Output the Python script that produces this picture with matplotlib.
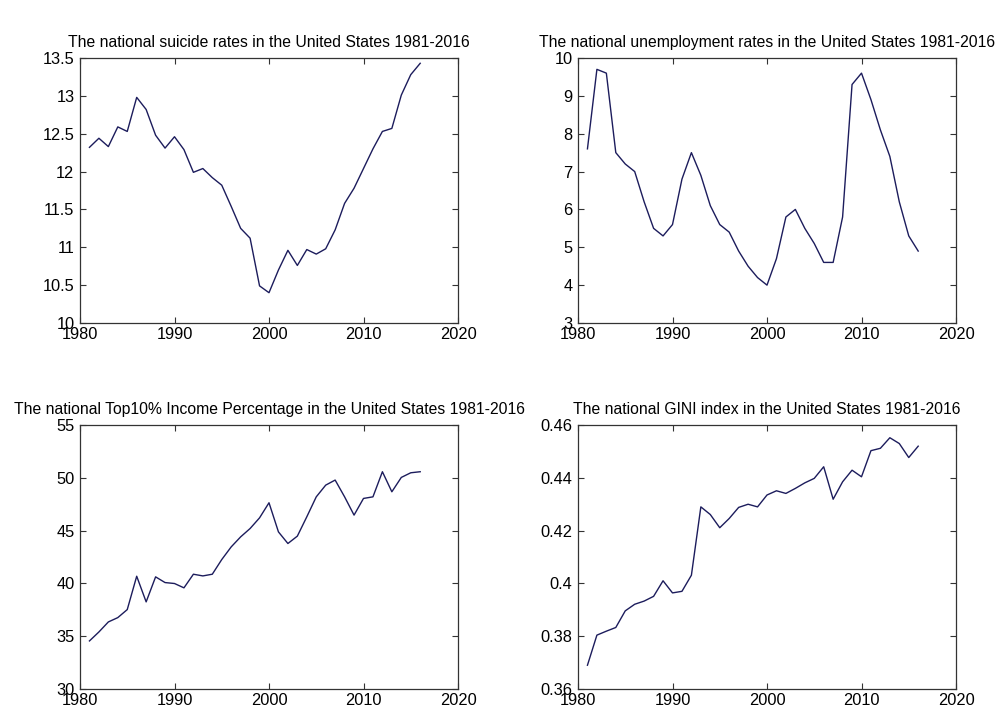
import numpy as np
from matplotlib import pyplot as plt

plt.rcParams['font.family'] = ['Liberation Sans', 'DejaVu Sans']

years = np.arange(1981, 2017)

suicide = [12.32, 12.44, 12.33, 12.59, 12.53, 12.98, 12.82, 12.48, 12.31, 12.46,
           12.29, 11.99, 12.04, 11.92, 11.82, 11.54, 11.25, 11.12, 10.49, 10.40,
           10.70, 10.96, 10.76, 10.97, 10.91, 10.98, 11.23, 11.58, 11.78, 12.04,
           12.30, 12.53, 12.57, 13.01, 13.28, 13.43]

unemployment = [7.6, 9.7, 9.6, 7.5, 7.2, 7.0, 6.2, 5.5, 5.3, 5.6,
                6.8, 7.5, 6.9, 6.1, 5.6, 5.4, 4.9, 4.5, 4.2, 4.0,
                4.7, 5.8, 6.0, 5.5, 5.1, 4.6, 4.6, 5.8, 9.3, 9.6,
                8.9, 8.1, 7.4, 6.2, 5.3, 4.9]

top10 = [34.55, 35.4, 36.35, 36.76, 37.52, 40.68, 38.25, 40.62, 40.08, 39.99,
         39.58, 40.87, 40.71, 40.87, 42.26, 43.46, 44.41, 45.2, 46.21, 47.64,
         44.88, 43.78, 44.48, 46.31, 48.2, 49.31, 49.79, 48.2, 46.47, 48.05,
         48.2, 50.58, 48.68, 50.04, 50.48, 50.58]

gini = [0.369, 0.3804, 0.3819, 0.3833, 0.3896, 0.3921, 0.3933, 0.3951, 0.4010, 0.3964,
        0.3970, 0.4031, 0.4290, 0.4261, 0.4211, 0.4246, 0.4288, 0.4300, 0.4290, 0.4335,
        0.4351, 0.4341, 0.4360, 0.4381, 0.4398, 0.4442, 0.4319, 0.4385, 0.4429, 0.4404,
        0.4503, 0.4512, 0.4552, 0.4530, 0.4477, 0.4520]

titles = ['The national suicide rates in the United States 1981-2016',
          'The national unemployment rates in the United States 1981-2016',
          'The national Top10% Income Percentage in the United States 1981-2016',
          'The national GINI index in the United States 1981-2016']

ylims = [(10, 13.5), (3, 10), (30, 55), (0.36, 0.46)]
yticks = [np.arange(10, 13.51, 0.5), np.arange(3, 10.1, 1),
          np.arange(30, 55.1, 5), np.arange(0.36, 0.461, 0.02)]
yticklabels = [['10', '10.5', '11', '11.5', '12', '12.5', '13', '13.5'],
               ['3', '4', '5', '6', '7', '8', '9', '10'],
               ['30', '35', '40', '45', '50', '55'],
               ['0.36', '0.38', '0.4', '0.42', '0.44', '0.46']]

positions = [[0.080, 0.5545, 0.378, 0.3655],
             [0.578, 0.5545, 0.378, 0.3655],
             [0.080, 0.0497, 0.378, 0.364],
             [0.578, 0.0497, 0.378, 0.364]]

fig = plt.figure(figsize=(10, 7.25), dpi=100)

for i, series in enumerate([suicide, unemployment, top10, gini]):
    ax = fig.add_axes(positions[i])
    ax.plot(years, series, color='#1c1c5c', linewidth=1.0)
    ax.set_xlim(1980, 2020)
    ax.set_ylim(*ylims[i])
    ax.set_xticks([1980, 1990, 2000, 2010, 2020])
    ax.set_yticks(yticks[i])
    ax.set_yticklabels(yticklabels[i])
    ax.tick_params(direction='in', length=4, width=0.8, color='#333333',
                   top=True, right=True, labelsize=11.8)
    ax.tick_params(axis='x', pad=3)
    ax.tick_params(axis='y', pad=4)
    for s in ax.spines.values():
        s.set_color('#333333')
        s.set_linewidth(0.9)
    ax.set_title(titles[i], fontsize=11.3, pad=8)

plt.savefig('out.png', dpi=100)
